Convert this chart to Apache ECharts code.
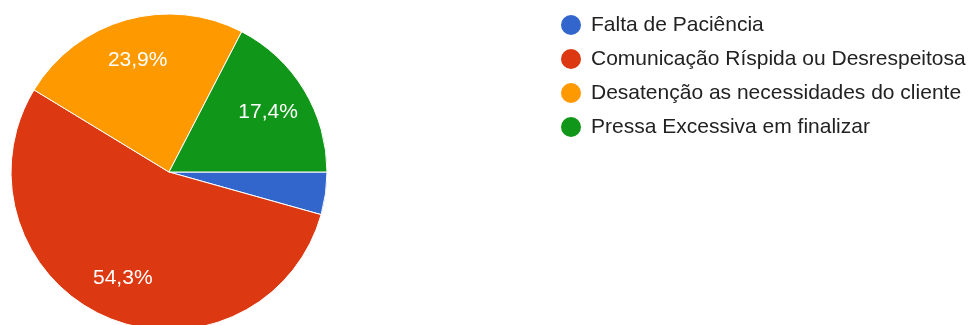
<!DOCTYPE html>
<html>
<head>
<meta charset="utf-8">
<script src="https://cdn.jsdelivr.net/npm/echarts@6/dist/echarts.min.js"></script>
<style>
	html, body { margin: 0; padding: 0; background: #fff; }
	#grafico { width: 969px; height: 325px; }
</style>
</head>
<body>
<div id="grafico"></div>
<script>
var categorias = ['Falta de Paciência', 'Comunicação Ríspida ou Desrespeitosa', 'Desatenção as necessidades do cliente', 'Pressa Excessiva em finalizar'];
var respostas = [2, 25, 11, 8];
var cores = ['#3366cc', '#dc3912', '#ff9900', '#109618'];

function initPie(divName) {
	var dom = document.getElementById(divName);
	var myChart = echarts.init(dom);
	var total = respostas.reduce((a, b) => a + b, 0);
	var detail = [];
	categorias.forEach((item, index) => {
		detail.push({ name: item, value: respostas[index] });
	})

	var option = {
		color: cores,
		animation: false,
		legend: {
			orient: 'vertical',
			left: 554,
			top: 8,
			icon: 'circle',
			itemWidth: 22,
			itemHeight: 22,
			itemGap: 10,
			data: categorias,
			textStyle: {
				fontFamily: 'Liberation Sans',
				fontSize: 21,
				lineHeight: 22,
				color: '#222',
				padding: [0, 0, 0, 4]
			}
		},
		series: [
			{
				name: 'Respostas',
				type: 'pie',
				center: [169, 172],
				radius: [0, 158],
				startAngle: 0,
				clockwise: true,
				label: { show: false },
				labelLine: { show: false },
				itemStyle: { borderColor: '#fff', borderWidth: 1 },
				data: detail
			},
			{
				// serie invisivel so para posicionar os rotulos
				name: 'Rotulos',
				type: 'pie',
				silent: true,
				center: [169, 172],
				radius: [0, 226],
				startAngle: 0,
				clockwise: true,
				itemStyle: { color: 'rgba(0,0,0,0)' },
				labelLine: { show: false },
				label: {
					show: true,
					position: 'inside',
					color: '#fff',
					fontFamily: 'Liberation Sans',
					fontSize: 21,
					formatter: function (p) {
						var pct = p.value / total * 100;
						if (pct < 5) return '';
						return pct.toFixed(1).replace('.', ',') + '%';
					}
				},
				data: detail
			}
		]
	};

	if (option && typeof option === "object") {
		myChart.setOption(option, true);
	}
}

initPie('grafico');
</script>
</body>
</html>
